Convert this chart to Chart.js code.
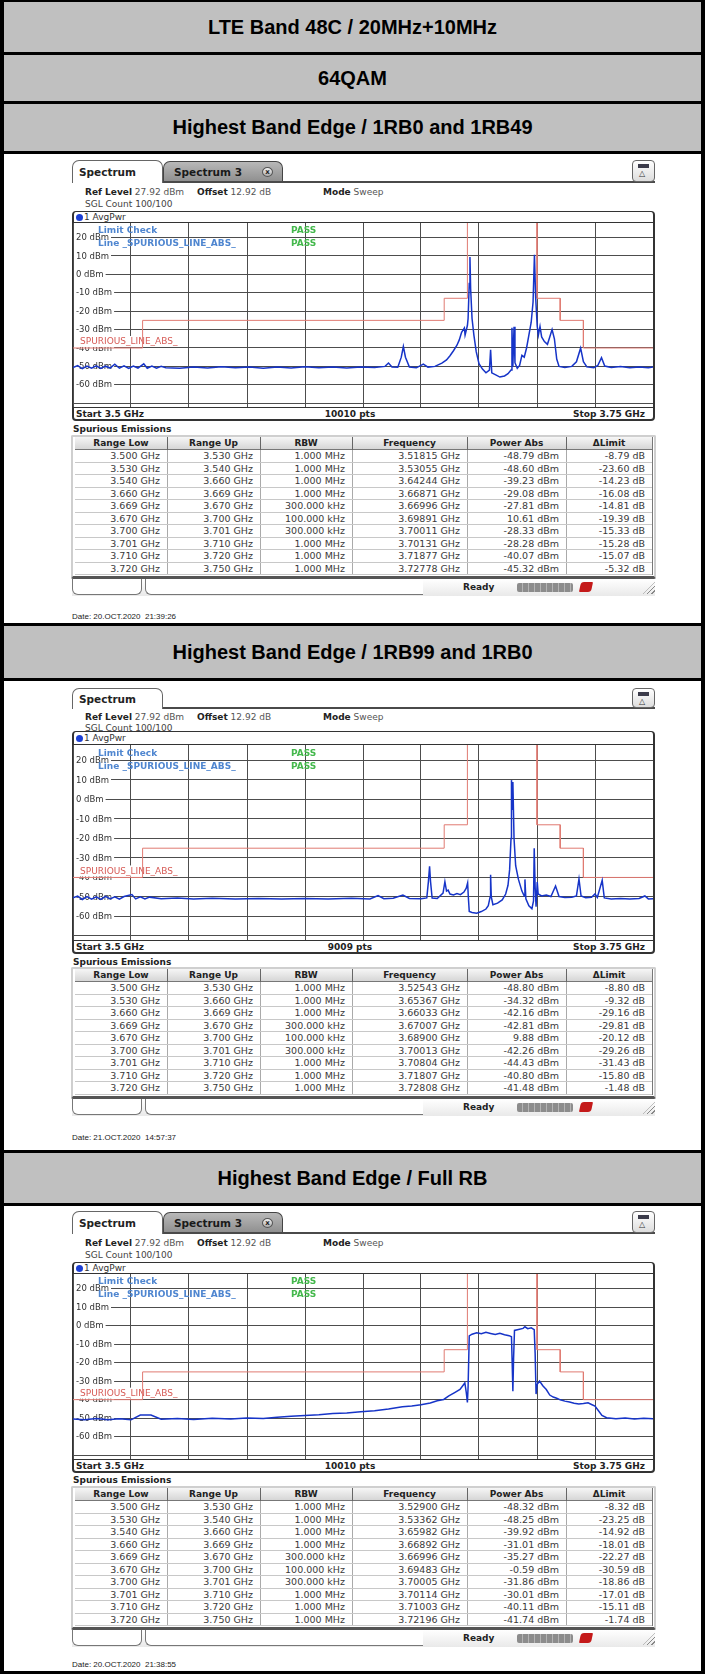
<!DOCTYPE html>
<html>
<head>
<meta charset="utf-8">
<script src="https://cdn.jsdelivr.net/npm/chart.js@4.4.1/dist/chart.umd.min.js"></script>
<style>
  body { margin: 0; background: #fff; }
  #page { position: relative; width: 705px; height: 1674px; overflow: hidden; background: #fff; }
  .a { position: absolute; white-space: nowrap; }
  .ui { font-family: "DejaVu Sans", Verdana, sans-serif; color: #222; line-height: 1; }
  .hdr { position: absolute; left: 0; width: 705px; background: #c0c0c0; color: #000;
         font: bold 20px "Liberation Sans", Arial, sans-serif; text-align: center; }
</style>
</head>
<body>
<div id="page"></div>
<script>
// axis
const xGridGhz = [3.5, 3.525, 3.55, 3.575, 3.6, 3.625, 3.65, 3.675, 3.7, 3.725, 3.75];
const yGridDbm = [-70, -60, -50, -40, -30, -20, -10, 0, 10, 20];
const yLabelDbm = [20, 10, 0, -10, -20, -30, -40, -50, -60];
const yMinDbm = -72.08;
const yMaxDbm = 27.92;

// limit line SPURIOUS_LINE_ABS_
const limitEdgesGhz = [3.5, 3.53, 3.66, 3.67, 3.70, 3.71, 3.72, 3.75];
const limitDbm = [-40, -25, -13, 30, -13, -25, -40];

// trace 1RB0 and 1RB49
const p1FreqGhz = [3.500, 3.502, 3.504, 3.506, 3.508, 3.510, 3.512, 3.514, 3.516, 3.518,
  3.520, 3.522, 3.524, 3.526, 3.528, 3.5305, 3.532, 3.534, 3.536, 3.538,
  3.540, 3.546, 3.552, 3.558, 3.564, 3.570, 3.576, 3.582, 3.588, 3.594,
  3.600, 3.606, 3.612, 3.618, 3.624, 3.630, 3.6345, 3.636, 3.6375, 3.640,
  3.6415, 3.6424, 3.6433, 3.645, 3.648, 3.651, 3.653, 3.656, 3.659, 3.661,
  3.6625, 3.664, 3.6655, 3.6665, 3.6675, 3.6687, 3.669, 3.670, 3.6703, 3.6708,
  3.6711, 3.6714, 3.672, 3.6728, 3.6738, 3.675, 3.6765, 3.678, 3.6795, 3.680,
  3.6805, 3.682, 3.684, 3.686, 3.6875, 3.6888, 3.6892, 3.6896, 3.6901, 3.6905,
  3.6915, 3.6925, 3.6935, 3.6945, 3.6955, 3.6965, 3.6975, 3.6983, 3.6989, 3.6994,
  3.7001, 3.7006, 3.7013, 3.702, 3.7032, 3.7045, 3.7055, 3.7065, 3.7075, 3.7085,
  3.7095, 3.712, 3.715, 3.717, 3.7188, 3.720, 3.7215, 3.7245, 3.7262, 3.7278,
  3.7292, 3.732, 3.736, 3.740, 3.744, 3.748, 3.750];
const p1LevelDbm = [-50.6, -49.6, -51.2, -49.8, -51.0, -49.7, -51.1, -49.9, -50.9, -48.8,
  -51.0, -49.7, -51.1, -49.8, -50.9, -48.6, -51.0, -49.8, -51.0, -50.0,
  -50.7, -51.0, -50.4, -50.9, -50.2, -50.8, -50.3, -51.0, -50.4, -50.9,
  -50.2, -50.8, -50.3, -50.9, -50.4, -50.6, -50.0, -48.2, -50.3, -50.5,
  -45.0, -39.2, -45.0, -50.4, -50.8, -48.8, -50.4, -50.0, -48.2, -46.5,
  -44.2, -41.5, -38.5, -35.6, -31.5, -29.1, -33.0, -27.8, -24.0, -5.0,
  9.5, -8.0, -24.0, -33.0, -42.0, -48.5, -51.5, -53.5, -52.0, -41.0,
  -53.5, -54.5, -55.8, -55.2, -54.0, -52.0, -29.0, -50.0, -28.5, -48.0,
  -51.0, -49.5, -44.0, -45.0, -40.0, -33.0, -26.0, -15.0, 10.6, -12.0,
  -28.3, -33.0, -28.3, -34.0, -36.5, -38.0, -34.0, -30.0, -35.0, -46.0,
  -50.0, -50.6, -50.0, -47.5, -40.1, -47.5, -50.3, -50.8, -49.5, -45.3,
  -49.8, -50.6, -50.1, -50.8, -50.3, -50.7, -50.4];

// trace 1RB99 and 1RB0
const p2FreqGhz = [3.500, 3.502, 3.504, 3.506, 3.508, 3.510, 3.512, 3.514, 3.516, 3.518,
  3.520, 3.522, 3.5254, 3.527, 3.529, 3.531, 3.533, 3.538, 3.545, 3.552,
  3.560, 3.570, 3.580, 3.590, 3.600, 3.610, 3.620, 3.628, 3.6315, 3.634,
  3.638, 3.6422, 3.645, 3.650, 3.6525, 3.6532, 3.6537, 3.6541, 3.6548, 3.657,
  3.6595, 3.6603, 3.661, 3.6617, 3.6625, 3.664, 3.6655, 3.667, 3.6685, 3.6695,
  3.6701, 3.6704, 3.6708, 3.672, 3.674, 3.676, 3.678, 3.679, 3.6798, 3.680,
  3.6803, 3.681, 3.683, 3.685, 3.6865, 3.6875, 3.6882, 3.6888, 3.689, 3.6893,
  3.6896, 3.6901, 3.6908, 3.692, 3.6935, 3.6945, 3.6948, 3.6952, 3.6965, 3.6978,
  3.6985, 3.6988, 3.6992, 3.6996, 3.7001, 3.7005, 3.702, 3.704, 3.706, 3.708,
  3.7095, 3.712, 3.715, 3.717, 3.7181, 3.719, 3.721, 3.7235, 3.725, 3.726,
  3.7281, 3.729, 3.732, 3.736, 3.740, 3.744, 3.7465, 3.748, 3.750];
const p2LevelDbm = [-50.5, -49.6, -51.3, -49.8, -51.1, -49.9, -51.2, -49.7, -51.0, -49.9,
  -51.1, -49.8, -48.8, -51.0, -49.9, -51.0, -50.1, -50.9, -50.6, -51.0,
  -50.7, -51.0, -50.8, -51.1, -50.8, -51.0, -50.7, -51.0, -49.3, -50.9,
  -50.7, -49.0, -50.8, -50.9, -50.5, -42.0, -34.3, -42.0, -50.6, -50.8,
  -48.0, -42.2, -47.0, -46.5, -48.5, -49.0, -48.3, -48.8, -47.5, -45.5,
  -42.8, -50.0, -57.5, -58.0, -58.3, -57.5, -56.2, -54.5, -50.0, -38.6,
  -50.0, -54.0, -53.2, -51.5, -48.5, -44.0, -36.0, -20.0, 9.9, -5.0,
  9.0, -20.0, -34.0, -41.0, -47.0, -49.5, -41.0, -51.0, -54.5, -56.0,
  -52.0, -25.0, -45.0, -55.0, -42.3, -48.5, -49.5, -49.0, -49.8, -44.4,
  -49.8, -50.3, -50.1, -49.5, -40.8, -49.5, -50.4, -50.2, -48.5, -50.3,
  -41.5, -50.5, -51.0, -50.8, -51.1, -50.8, -49.5, -51.0, -50.9];

// trace Full RB
const p3FreqGhz = [3.500, 3.505, 3.510, 3.515, 3.520, 3.525, 3.529, 3.5336, 3.538, 3.545,
  3.552, 3.560, 3.568, 3.575, 3.582, 3.588, 3.594, 3.600, 3.606, 3.612,
  3.618, 3.624, 3.630, 3.636, 3.642, 3.646, 3.650, 3.654, 3.657, 3.6598,
  3.662, 3.6645, 3.6668, 3.6689, 3.6695, 3.670, 3.6703, 3.6708, 3.672, 3.674,
  3.676, 3.678, 3.680, 3.682, 3.684, 3.686, 3.688, 3.689, 3.6893, 3.6896,
  3.6899, 3.6903, 3.692, 3.694, 3.6948, 3.696, 3.6975, 3.6988, 3.6992, 3.6996,
  3.700, 3.7011, 3.7025, 3.704, 3.7055, 3.707, 3.7085, 3.710, 3.712, 3.714,
  3.716, 3.718, 3.720, 3.722, 3.7235, 3.725, 3.7265, 3.728, 3.730, 3.734,
  3.738, 3.742, 3.746, 3.750];
const p3LevelDbm = [-50.4, -50.9, -50.2, -50.8, -50.3, -50.9, -48.3, -48.3, -50.6, -50.2,
  -50.7, -50.1, -50.5, -49.9, -50.2, -49.5, -49.0, -48.5, -48.2, -47.5,
  -47.2, -46.5, -46.0, -45.0, -43.8, -43.4, -42.8, -41.8, -40.6, -39.9,
  -38.0, -36.2, -34.5, -31.0, -36.0, -41.5, -33.0, -5.5, -4.6, -3.8,
  -4.4, -3.6, -4.2, -4.8, -4.1, -4.9, -5.4, -6.0, -20.0, -35.5,
  -18.0, -2.6, -2.1, -1.5, -0.6, -1.6, -1.2, -2.2, -15.0, -37.0,
  -31.9, -30.0, -32.5, -34.5, -37.5, -38.6, -39.2, -40.1, -40.8, -41.3,
  -41.9, -42.4, -42.1, -41.7, -42.6, -43.5, -46.0, -48.5, -49.8, -50.3,
  -49.9, -50.4, -50.0, -50.3];

// spurious emissions tables
const p1RangeLow = [3.500, 3.530, 3.540, 3.660, 3.669, 3.670, 3.700, 3.701, 3.710, 3.720];
const p1RangeUp = [3.530, 3.540, 3.660, 3.669, 3.670, 3.700, 3.701, 3.710, 3.720, 3.750];
const p1Rbw = ['1.000 MHz', '1.000 MHz', '1.000 MHz', '1.000 MHz', '300.000 kHz', '100.000 kHz', '300.000 kHz', '1.000 MHz', '1.000 MHz', '1.000 MHz'];
const p1PeakGhz = [3.51815, 3.53055, 3.64244, 3.66871, 3.66996, 3.69891, 3.70011, 3.70131, 3.71877, 3.72778];
const p1PowerDbm = [-48.79, -48.60, -39.23, -29.08, -27.81, 10.61, -28.33, -28.28, -40.07, -45.32];
const p1DeltaDb = [-8.79, -23.60, -14.23, -16.08, -14.81, -19.39, -15.33, -15.28, -15.07, -5.32];

const p2RangeLow = [3.500, 3.530, 3.660, 3.669, 3.670, 3.700, 3.701, 3.710, 3.720];
const p2RangeUp = [3.530, 3.660, 3.669, 3.670, 3.700, 3.701, 3.710, 3.720, 3.750];
const p2Rbw = ['1.000 MHz', '1.000 MHz', '1.000 MHz', '300.000 kHz', '100.000 kHz', '300.000 kHz', '1.000 MHz', '1.000 MHz', '1.000 MHz'];
const p2PeakGhz = [3.52543, 3.65367, 3.66033, 3.67007, 3.68900, 3.70013, 3.70804, 3.71807, 3.72808];
const p2PowerDbm = [-48.80, -34.32, -42.16, -42.81, 9.88, -42.26, -44.43, -40.80, -41.48];
const p2DeltaDb = [-8.80, -9.32, -29.16, -29.81, -20.12, -29.26, -31.43, -15.80, -1.48];

const p3PeakGhz = [3.52900, 3.53362, 3.65982, 3.66892, 3.66996, 3.69483, 3.70005, 3.70114, 3.71003, 3.72196];
const p3PowerDbm = [-48.32, -48.25, -39.92, -31.01, -35.27, -0.59, -31.86, -30.01, -40.11, -41.74];
const p3DeltaDb = [-8.32, -23.25, -14.92, -18.01, -22.27, -30.59, -18.86, -17.01, -15.11, -1.74];

const tableHead = ['Range Low', 'Range Up', 'RBW', 'Frequency', 'Power Abs', '\u0394Limit'];
const colEdges = [75, 167, 260, 352, 467, 566, 652];

const titles = [
  ['LTE Band 48C / 20MHz+10MHz', 2, 52],
  ['64QAM', 55, 101],
  ['Highest Band Edge / 1RB0 and 1RB49', 104, 151],
  ['Highest Band Edge / 1RB99 and 1RB0', 626, 678],
  ['Highest Band Edge / Full RB', 1153, 1203]
];

const panels = [
  { tabs: 2, tabTop: 160, tabBot: 182, refY: 192, sglY: 204, frameTop: 211, plotTop: 223, plotBot: 407,
    spurY: 429, tableTop: 437, rowH: 12.5, statusTop: 579, dateY: 616,
    freq: p1FreqGhz, level: p1LevelDbm, pts: '10010 pts', date: 'Date: 20.OCT.2020  21:39:26',
    cols: [p1RangeLow, p1RangeUp, p1Rbw, p1PeakGhz, p1PowerDbm, p1DeltaDb] },
  { tabs: 1, tabTop: 688, tabBot: 708, refY: 717, sglY: 728, frameTop: 731, plotTop: 745, plotBot: 940,
    spurY: 962, tableTop: 969, rowH: 12.5, statusTop: 1099, dateY: 1137,
    freq: p2FreqGhz, level: p2LevelDbm, pts: '9009 pts', date: 'Date: 21.OCT.2020  14:57:37',
    cols: [p2RangeLow, p2RangeUp, p2Rbw, p2PeakGhz, p2PowerDbm, p2DeltaDb] },
  { tabs: 2, tabTop: 1211, tabBot: 1233, refY: 1243, sglY: 1255, frameTop: 1262, plotTop: 1274, plotBot: 1459,
    spurY: 1480, tableTop: 1488, rowH: 12.5, statusTop: 1630, dateY: 1664,
    freq: p3FreqGhz, level: p3LevelDbm, pts: '10010 pts', date: 'Date: 20.OCT.2020  21:38:55',
    cols: [p1RangeLow, p1RangeUp, p1Rbw, p3PeakGhz, p3PowerDbm, p3DeltaDb] }
];

const page = document.getElementById('page');

function box(x, y, w, h, css, text) {
  const d = document.createElement('div');
  d.className = 'a';
  d.style.cssText = `left:${x}px;top:${y}px;width:${w}px;height:${h}px;` + (css || '');
  if (text != null) d.textContent = text;
  page.appendChild(d);
  return d;
}

function label(x, y, html, css) {
  const d = document.createElement('div');
  d.className = 'a ui';
  d.style.cssText = `left:${x}px;top:${y}px;transform:translateY(-50%);font-size:9px;` + (css || '');
  d.innerHTML = html;
  page.appendChild(d);
  return d;
}

// title bars and outer frame
titles.forEach(([t, y0, y1]) => {
  const h = box(0, y0, 705, y1 - y0, 'background:#c0c0c0;');
  h.className = 'hdr';
  h.style.lineHeight = (y1 - y0) + 'px';
  h.textContent = t;
  box(0, y0 - 3, 705, 3, 'background:#000;');
  box(0, y1, 705, 3, 'background:#000;');
});
box(0, 0, 705, 2, 'background:#000;');
box(0, 1671, 705, 3, 'background:#000;');
box(0, 0, 4, 1674, 'background:#000;');
box(701, 0, 4, 1674, 'background:#000;');

const fmt = (v, d, unit) => v.toFixed(d) + ' ' + unit;

const dbmLabels = {
  id: 'dbmLabels',
  beforeDatasetsDraw(chart) {
    const { ctx, chartArea, scales: { y } } = chart;
    ctx.save();
    ctx.textBaseline = 'middle';
    ctx.font = '8.5px "DejaVu Sans"';
    yLabelDbm.forEach(v => {
      const py = y.getPixelForValue(v);
      const t = v + ' dBm';
      const w = ctx.measureText(t).width;
      ctx.fillStyle = '#fff';
      ctx.fillRect(chartArea.left + 1, py - 4.5, w + 4, 9);
      ctx.fillStyle = '#333';
      ctx.fillText(t, chartArea.left + 3, py + 0.5);
    });
    // limit line name
    const yl = y.getPixelForValue(limitDbm[0]);
    ctx.font = '9px "DejaVu Sans"';
    const name = 'SPURIOUS_LINE_ABS_';
    const nw = ctx.measureText(name).width;
    ctx.fillStyle = '#fff';
    ctx.fillRect(chartArea.left + 1, yl - 12, nw + 8, 11);
    ctx.fillStyle = '#d65a55';
    ctx.fillText(name, chartArea.left + 7, yl - 6);
    // limit check result
    const y20 = y.getPixelForValue(20);
    ctx.font = 'bold 9px "DejaVu Sans"';
    ctx.fillStyle = '#4f86d0';
    ctx.fillText('Limit Check', chartArea.left + 25, y20 - 7);
    ctx.fillText('Line _SPURIOUS_LINE_ABS_', chartArea.left + 25, y20 + 6);
    ctx.fillStyle = '#44b84c';
    ctx.fillText('PASS', chartArea.left + 218, y20 - 7);
    ctx.fillText('PASS', chartArea.left + 218, y20 + 6);
    ctx.restore();
  }
};

function buildPanel(p) {
  const tabMid = (p.tabTop + p.tabBot) / 2 + 1;
  // tabs
  box(72, p.tabTop, 91, p.tabBot - p.tabTop + 1, 'background:#fff;border:1px solid #666;border-bottom:none;border-radius:7px 7px 0 0;box-sizing:border-box;');
  label(79, tabMid, 'Spectrum', 'font-weight:bold;font-size:10.5px;color:#222;');
  if (p.tabs > 1) {
    box(163, p.tabTop + 1, 120, p.tabBot - p.tabTop - 1, 'background:linear-gradient(#b8b8b8,#8e8e8e);border:1px solid #444;border-bottom:none;border-radius:7px 7px 0 0;box-sizing:border-box;');
    label(174, tabMid, 'Spectrum 3', 'font-weight:bold;font-size:10.5px;color:#1a1a1a;');
    box(262, tabMid - 5, 11, 10, 'border-radius:50%;background:linear-gradient(#f4f4f4,#aaa);border:1px solid #555;box-sizing:border-box;font:bold 7px "DejaVu Sans";text-align:center;line-height:8px;color:#222;', 'x');
  }
  box(163, p.tabBot - 1, 492, 2, 'background:#4a4a4a;');
  // top right icon
  box(632, p.tabTop, 23, p.tabBot - p.tabTop, 'border:1px solid #666;border-radius:4px;background:linear-gradient(#fff,#ddd);box-sizing:border-box;');
  box(638, p.tabTop + 4, 11, 4, 'background:#3b3b4a;');
  label(639, p.tabTop + 14, '\u25b3', 'font-size:8px;color:#333;');

  // settings
  label(85, p.refY, '<b>Ref Level</b> <span style="color:#555">27.92 dBm</span>');
  label(197, p.refY, '<b>Offset</b> <span style="color:#555">12.92 dB</span>');
  label(323, p.refY, '<b>Mode</b> <span style="color:#555">Sweep</span>');
  label(85, p.sglY, 'SGL Count 100/100', 'color:#444;');

  // diagram frame
  const frameBot = p.plotBot + 14;
  box(72, p.frameTop, 583, frameBot - p.frameTop, 'border:1px solid #333;border-width:1px 2px 2px 2px;border-radius:4px;box-sizing:border-box;');
  const avgY = (p.frameTop + p.plotTop) / 2;
  box(76, avgY - 3.5, 7, 7, 'border-radius:50%;background:#1c3fd4;');
  label(84, avgY, '1 AvgPwr', 'color:#333;');
  box(73, p.plotTop - 1, 580, 1, 'background:#333;');
  box(73, p.plotBot, 580, 1, 'background:#333;');
  const footY = (p.plotBot + frameBot) / 2;
  label(76, footY, 'Start 3.5 GHz', 'font-weight:bold;');
  box(300, footY - 6, 100, 12, 'font:bold 9px "DejaVu Sans";text-align:center;line-height:12px;color:#222;', p.pts);
  box(545, footY - 6, 100, 12, 'font:bold 9px "DejaVu Sans";text-align:right;line-height:12px;color:#222;', 'Stop 3.75 GHz');

  // chart
  const cv = document.createElement('canvas');
  const h = p.plotBot - p.plotTop;
  cv.width = 580; cv.height = h;
  cv.style.cssText = `position:absolute;left:73px;top:${p.plotTop}px;width:580px;height:${h}px;`;
  page.appendChild(cv);

  const trace = p.freq.map((f, i) => ({ x: f, y: p.level[i] }));
  const limitPts = [];
  limitDbm.forEach((v, i) => {
    limitPts.push({ x: limitEdgesGhz[i], y: v });
    limitPts.push({ x: limitEdgesGhz[i + 1], y: v });
  });

  new Chart(cv, {
    type: 'scatter',
    data: {
      datasets: [
        { data: trace, showLine: true, borderColor: '#1634c8', borderWidth: 1.5, pointRadius: 0 },
        { data: limitPts, showLine: true, borderColor: '#e07a72', borderWidth: 1, pointRadius: 0 }
      ]
    },
    options: {
      responsive: false,
      animation: false,
      events: [],
      layout: { padding: 0 },
      plugins: { legend: { display: false }, tooltip: { enabled: false } },
      scales: {
        x: {
          type: 'linear', min: xGridGhz[0], max: xGridGhz[xGridGhz.length - 1],
          afterBuildTicks: s => { s.ticks = xGridGhz.map(v => ({ value: v })); },
          ticks: { display: false },
          grid: { color: '#4d4d4d', lineWidth: 1, drawTicks: false },
          border: { display: false }
        },
        y: {
          min: yMinDbm, max: yMaxDbm,
          afterBuildTicks: s => { s.ticks = yGridDbm.map(v => ({ value: v })); },
          ticks: { display: false },
          grid: { color: '#4d4d4d', lineWidth: 1, drawTicks: false },
          border: { display: false }
        }
      }
    },
    plugins: [dbmLabels]
  });

  // spurious emissions table
  label(73, p.spurY, 'Spurious Emissions', 'font-weight:bold;');
  const n = p.cols[0].length;
  const headH = 13;
  const tBot = p.tableTop + headH + n * p.rowH;
  box(71, p.tableTop - 2, 585, tBot - p.tableTop + 6, 'border:2px solid #cfcfcf;border-bottom:3px solid #555;box-sizing:border-box;border-radius:2px;');
  for (let c = 0; c < 6; c++) {
    const x0 = colEdges[c], x1 = colEdges[c + 1];
    box(x0, p.tableTop, x1 - x0, headH, 'background:linear-gradient(#f6f6f6,#d6d6d6);border-bottom:1px solid #777;box-sizing:border-box;font:bold 9px "DejaVu Sans";color:#222;text-align:center;line-height:13px;', tableHead[c]);
    if (c > 0) box(x0, p.tableTop, 1, headH, 'background:#666;');
    if (c > 0) box(x0, p.tableTop + headH, 1, n * p.rowH, 'background:#aaa;');
  }
  box(colEdges[6], p.tableTop, 1, tBot - p.tableTop, 'background:#777;');
  for (let r = 0; r < n; r++) {
    const y0 = p.tableTop + headH + r * p.rowH;
    box(75, y0 + p.rowH - 1, 577, 1, 'background:#c8c8c8;');
    const texts = [
      fmt(p.cols[0][r], 3, 'GHz'), fmt(p.cols[1][r], 3, 'GHz'), p.cols[2][r],
      fmt(p.cols[3][r], 5, 'GHz'), fmt(p.cols[4][r], 2, 'dBm'), fmt(p.cols[5][r], 2, 'dB')
    ];
    texts.forEach((t, c) => {
      box(colEdges[c], y0, colEdges[c + 1] - colEdges[c], p.rowH,
        `padding-right:7px;box-sizing:border-box;text-align:right;font:9.5px "DejaVu Sans";line-height:${p.rowH}px;color:#3a3a3a;`, t);
    });
  }

  // status bar
  const s = p.statusTop;
  box(72, s, 583, 17, 'background:linear-gradient(#fff,#e9e9e9);');
  box(72, s, 70, 16, 'border:1px solid #777;border-top:none;border-radius:0 0 6px 6px;box-sizing:border-box;background:#fff;');
  box(145, s, 278, 16, 'border:1px solid #777;border-top:none;border-right:none;border-radius:0 0 0 6px;box-sizing:border-box;background:#fff;');
  label(463, s + 8, 'Ready', 'font-weight:bold;');
  box(517, s + 4, 56, 9, 'background:repeating-linear-gradient(90deg,#8c8c8c 0 5px,#b4b4b4 5px 6px);border-radius:2px;');
  box(580, s + 3, 12, 10, 'background:#c41a1a;border-radius:3px 1px 3px 1px;transform:skewX(-12deg);');
  box(643, s + 3, 12, 12, 'background:repeating-linear-gradient(135deg,transparent 0 2px,#888 2px 3px);clip-path:polygon(100% 0,100% 100%,0 100%);');

  // date
  label(72, p.dateY, p.date, 'font:8px "Liberation Sans",Arial,sans-serif;color:#222;white-space:pre;');
}

panels.forEach(buildPanel);
</script>
</body>
</html>
